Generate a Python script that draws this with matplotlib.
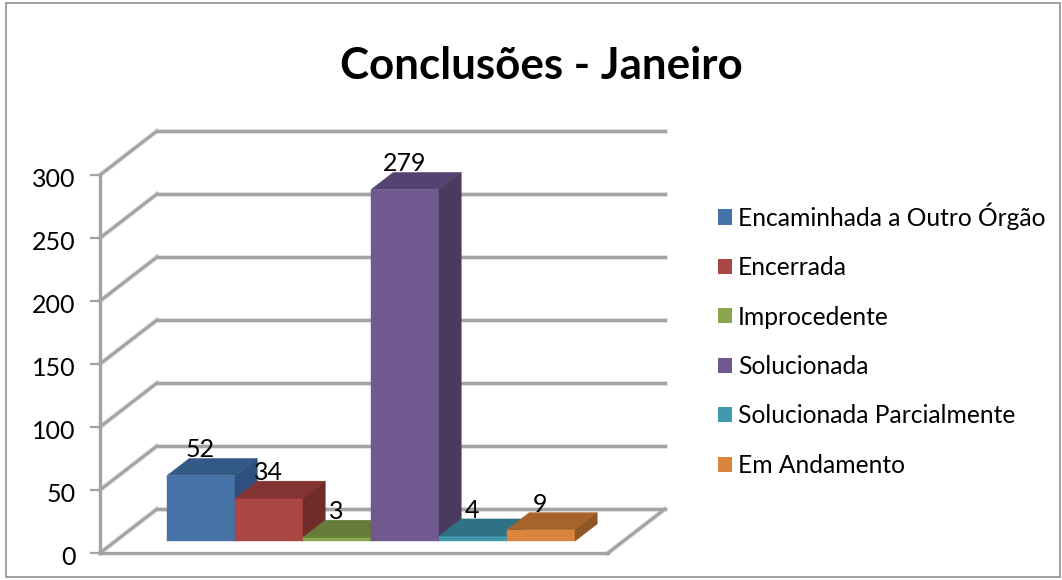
import matplotlib
matplotlib.use("Agg")
import matplotlib.pyplot as plt
from matplotlib.patches import Patch, Polygon
from matplotlib.transforms import ScaledTranslation

categories = ["Encaminhada a Outro Órgão", "Encerrada", "Improcedente",
              "Solucionada", "Solucionada Parcialmente", "Em Andamento"]
values = [52, 34, 3, 279, 4, 9]
yticks = [0, 50, 100, 150, 200, 250, 300]

front_colors = ["#4572A7", "#AA4643", "#89A54E", "#71588F", "#4198AF", "#DB843D"]
top_colors = ["#335A85", "#833432", "#677C3A", "#544270", "#2F7285", "#A6642C"]
side_colors = ["#2D5080", "#6F2C2A", "#586B32", "#4A3A5E", "#28626F", "#8E5525"]

W, H = 1062, 580
PX_CAT = 68.0    # pixels per bar
PX_VAL = 1.26    # pixels per unit on y
WALL_DX, WALL_DY = 57.0, 44.0   # pixels from the front plane to the back wall
BAR_D0, BAR_D1 = 0.27, 0.66     # bar depth, as a fraction of the wall depth
LEFT, RIGHT, BOTTOM, TOP = 100, 608, 553, 175
GRID = "#A3A3A3"
HALO = "#E2E2E2"


def project(x, v, d):
    """Front-plane data coordinates of a point at depth d (0 front, 1 back wall)."""
    return x + d * WALL_DX / PX_CAT, v + d * WALL_DY / PX_VAL


plt.rcParams["font.family"] = ["Lato", "DejaVu Sans"]
fig = plt.figure(figsize=(W / 100, H / 100), dpi=100)
fig.patches.append(plt.Rectangle((6 / W, 1 - 577 / H), 1054 / W, 574 / H, transform=fig.transFigure,
                                 facecolor="white", edgecolor="#868686", linewidth=1.1, zorder=-1))

ax = fig.add_axes([LEFT / W, 1 - BOTTOM / H, (RIGHT - LEFT) / W, (BOTTOM - TOP) / H])
ax.patch.set_visible(False)
# bar 0 starts at x=0 on its front-bottom corner once pushed back to BAR_D0
x0 = (167 - BAR_D0 * WALL_DX - LEFT) / PX_CAT
ax.set_xlim(-x0, (RIGHT - LEFT) / PX_CAT - x0)
ax.set_ylim(0, 300)
ax.set_xticks([])
ax.set_yticks(yticks)
ax.tick_params(axis="y", length=7, width=1.6, color=GRID, labelsize=18, pad=10.5, labelcolor="black")
# tick labels sit a little below their ticks
label_shift = ScaledTranslation(0, -2.5 / 100, fig.dpi_scale_trans)
for lab in ax.get_yticklabels():
    lab.set_transform(lab.get_transform() + label_shift)
for name in ["top", "right"]:
    ax.spines[name].set_visible(False)
for name in ["left", "bottom"]:
    ax.spines[name].set_color(GRID)
    ax.spines[name].set_linewidth(2.4)

x_left, x_right = ax.get_xlim()

# walls and floor
for v in yticks:
    xa, va = project(x_left, v, 1)
    xb, vb = project(x_right, v, 1)
    ax.plot([x_left, xa], [v, va], color=HALO, lw=3.6, clip_on=False, zorder=1)
    ax.plot([xa, xb], [va, vb], color=HALO, lw=3.6, clip_on=False, zorder=1)
    ax.plot([x_left, xa], [v, va], color=GRID, lw=2.2, clip_on=False, zorder=1.1)
    ax.plot([xa, xb], [va, vb], color=GRID, lw=2.2, clip_on=False, zorder=1.1)
xb, vb = project(x_right, 0, 1)
ax.plot([x_right, xb], [0, vb], color=HALO, lw=3.6, clip_on=False, zorder=1)
ax.plot([x_right, xb], [0, vb], color=GRID, lw=2.2, clip_on=False, zorder=1.1)

# bars, left to right so each one overlaps the side of the previous
for i, v in enumerate(values):
    corners = {
        "fl": project(i, 0, BAR_D0), "fr": project(i + 1, 0, BAR_D0),
        "tl": project(i, v, BAR_D0), "tr": project(i + 1, v, BAR_D0),
        "bl": project(i, v, BAR_D1), "br": project(i + 1, v, BAR_D1),
        "sb": project(i + 1, 0, BAR_D1),
    }
    faces = [
        (["fl", "fr", "tr", "tl"], front_colors[i]),
        (["tl", "tr", "br", "bl"], top_colors[i]),
        (["fr", "sb", "br", "tr"], side_colors[i]),
    ]
    for keys, color in faces:
        ax.add_patch(Polygon([corners[k] for k in keys], closed=True, facecolor=color,
                             edgecolor=color, linewidth=0.3, clip_on=False, zorder=2 + i * 0.1))
    lx, ly = project(i + 0.5, v, BAR_D1)
    ax.annotate(str(v), (lx, ly), xytext=(-23, 8.5), textcoords="offset pixels",
                ha="center", va="center", fontsize=18, color="black", zorder=5,
                annotation_clip=False)

fig.text(541 / W, 1 - 66 / H, "Conclusões - Janeiro", ha="center", va="center",
         fontsize=31.6, fontweight="bold", color="black")

handles = [Patch(facecolor=c, edgecolor="none", label=l) for c, l in zip(front_colors, categories)]
fig.legend(handles=handles, loc="center left", bbox_to_anchor=(718 / W, 1 - 339.5 / H),
           frameon=False, fontsize=17.7, handlelength=0.58, handleheight=0.58,
           handletextpad=0.22, labelspacing=1.077, borderpad=0, borderaxespad=0)

fig.savefig("out.png", dpi=100)
